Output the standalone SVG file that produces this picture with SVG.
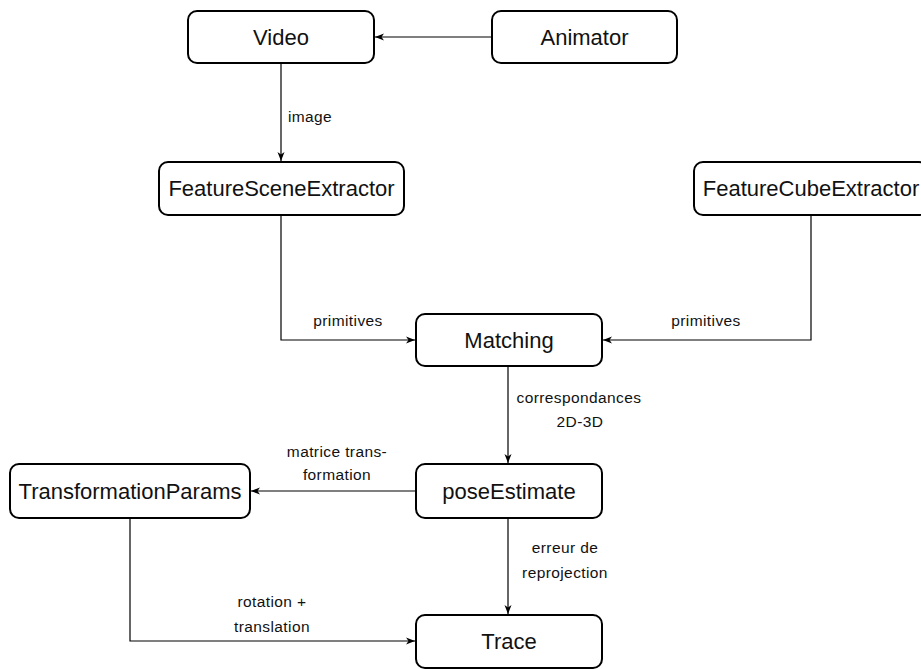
<svg xmlns="http://www.w3.org/2000/svg" width="921" height="669" viewBox="0 0 921 669">
<style>
.node rect{fill:#fff;stroke:#000;stroke-width:2}
.node text{font-family:"Liberation Sans",Arial,sans-serif;font-size:22px;fill:#111;text-anchor:middle}
.edge{fill:none;stroke:#000;stroke-width:1.2;marker-end:url(#arr)}
.lbl{font-family:"Liberation Sans",Arial,sans-serif;font-size:15.5px;fill:#111;text-anchor:middle;letter-spacing:0.4px}
</style>
<defs>
<marker id="arr" markerWidth="10" markerHeight="8" refX="9" refY="4" orient="auto" markerUnits="userSpaceOnUse">
<path d="M0,0.5 L9,4 L0,7.5 L2.5,4 z" fill="#000"/>
</marker>
</defs>
<rect width="921" height="669" fill="#fff"/>
<g id="connectors">
<path class="edge" d="M492,37 H375"/>
<path class="edge" d="M281,63 V161"/>
<path class="edge" d="M281,215 V340 H415"/>
<path class="edge" d="M811,215 V340 H603"/>
<path class="edge" d="M508,366 V463"/>
<path class="edge" d="M416,491 H251"/>
<path class="edge" d="M508,518 V614"/>
<path class="edge" d="M130,518 V641 H415"/>
<text class="lbl" x="310" y="122">image</text>
<text class="lbl" x="348" y="326">primitives</text>
<text class="lbl" x="706" y="326">primitives</text>
<text class="lbl" x="579" y="403">correspondances</text>
<text class="lbl" x="580" y="427">2D-3D</text>
<text class="lbl" x="337" y="457">matrice trans-</text>
<text class="lbl" x="337" y="480">formation</text>
<text class="lbl" x="565" y="553">erreur de</text>
<text class="lbl" x="565" y="578">reprojection</text>
<text class="lbl" x="272" y="607">rotation +</text>
<text class="lbl" x="272" y="632">translation</text>
</g>
<g id="video" class="node"><rect x="188" y="11" width="186" height="52" rx="9"/><text x="281" y="45">Video</text></g>
<g id="animator" class="node"><rect x="492" y="11" width="185" height="52" rx="9"/><text x="584.5" y="45">Animator</text></g>
<g id="featureSceneExtractor" class="node"><rect x="159" y="162" width="245" height="53" rx="9"/><text x="281.5" y="196">FeatureSceneExtractor</text></g>
<g id="featureCubeExtractor" class="node"><rect x="694" y="162" width="234" height="53" rx="9"/><text x="811" y="196">FeatureCubeExtractor</text></g>
<g id="matching" class="node"><rect x="416" y="314" width="186" height="52" rx="9"/><text x="509" y="348">Matching</text></g>
<g id="poseEstimate" class="node"><rect x="416" y="464" width="186" height="54" rx="9"/><text x="509" y="499">poseEstimate</text></g>
<g id="transformationParams" class="node"><rect x="10" y="464" width="240" height="54" rx="9"/><text x="130" y="499">TransformationParams</text></g>
<g id="trace" class="node"><rect x="416" y="615" width="186" height="53" rx="9"/><text x="509" y="649">Trace</text></g>
</svg>
